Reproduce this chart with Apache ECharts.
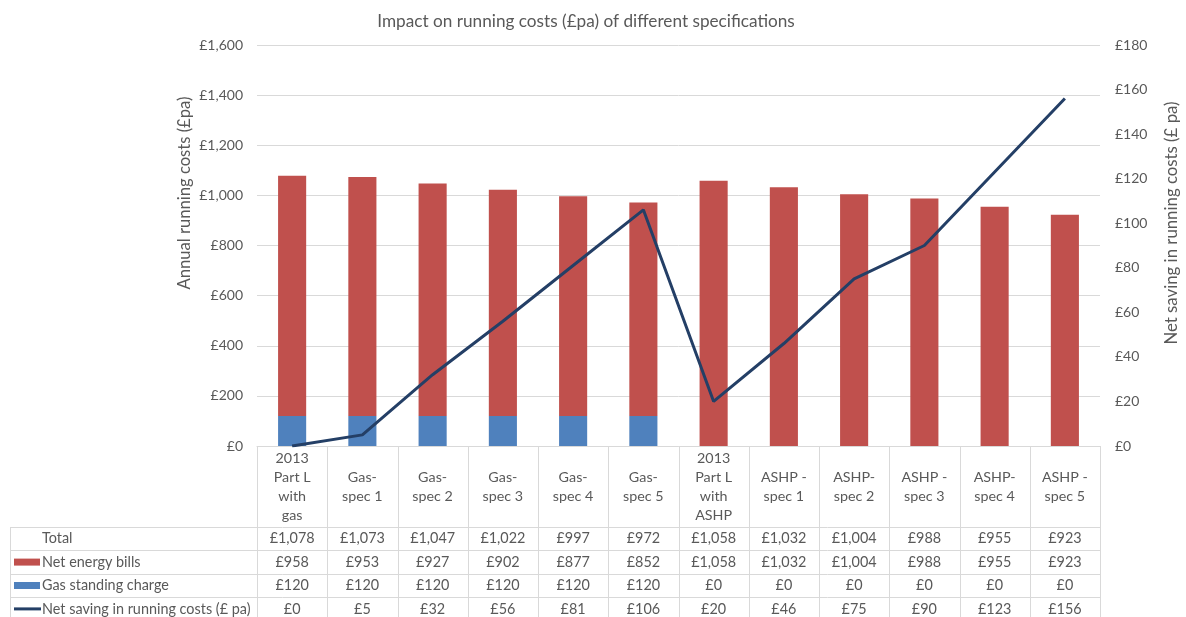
<!DOCTYPE html>
<html>
<head>
<meta charset="utf-8">
<script src="https://cdn.jsdelivr.net/npm/echarts@6/dist/echarts.min.js"></script>
<style>
html,body{margin:0;padding:0;background:#fff;}
#chart{width:1186px;height:617px;}
</style>
</head>
<body>
<div id="chart"></div>
<script>
const categories = ['2013 Part L with gas','Gas-spec 1','Gas-spec 2','Gas-spec 3','Gas-spec 4','Gas-spec 5',
  '2013 Part L with ASHP','ASHP - spec 1','ASHP-spec 2','ASHP - spec 3','ASHP-spec 4','ASHP - spec 5'];
const totalValues = [1078,1073,1047,1022,997,972,1058,1032,1004,988,955,923];
const netEnergyBills = [958,953,927,902,877,852,1058,1032,1004,988,955,923];
const gasStandingCharge = [120,120,120,120,120,120,0,0,0,0,0,0];
const netSaving = [0,5,32,56,81,106,20,46,75,90,123,156];
const leftTicks = {min:0, max:1600, interval:200};
const rightTicks = {min:0, max:180, interval:20};

const FONT = 'Lato, "Liberation Sans", sans-serif';
const TXT = '#595959';
const GRIDC = '#D9D9D9';
const RED = '#C0504D', BLUE = '#4F81BD', NAVY = '#243F66';

function money(v){ return '£' + v.toLocaleString('en-GB'); }
function wrap(label, max){
  const tokens = [];
  label.split(' ').forEach(w => {
    const parts = w.split(/(?<=-)(?=.)/);
    parts.forEach((p, i) => tokens.push({t:p, sp: i===0}));
  });
  const lines = []; let cur = '';
  tokens.forEach(tk => {
    const cand = cur === '' ? tk.t : cur + (tk.sp ? ' ' : '') + tk.t;
    if (cur !== '' && cand.length > max) { lines.push(cur); cur = tk.t; }
    else cur = cand;
  });
  if (cur) lines.push(cur);
  return lines.join('\n');
}

const grid = {left:257, right:86, top:45, bottom:171};
const chart = echarts.init(document.getElementById('chart'));
chart.setOption({
  animation:false,
  textStyle:{fontFamily:FONT},
  title:{text:'Impact on running costs (£pa) of different specifications', left:581, top:8, textAlign:'center',
    textStyle:{fontFamily:FONT, fontSize:17.2, fontWeight:'normal', color:TXT}},
  grid:grid,
  xAxis:{type:'category', data:categories,
    axisLine:{lineStyle:{color:GRIDC, width:1}}, axisTick:{show:false},
    axisLabel:{interval:0, margin:41, verticalAlign:'middle', lineHeight:19, fontSize:14.3, color:TXT, fontFamily:FONT,
      formatter: v => wrap(v, 6)}},
  yAxis:[
    {type:'value', min:leftTicks.min, max:leftTicks.max, interval:leftTicks.interval,
      axisLabel:{formatter: v => money(v), margin:14, fontSize:14, color:TXT, fontFamily:FONT},
      splitLine:{lineStyle:{color:GRIDC}}, axisLine:{show:false}, axisTick:{show:false}},
    {type:'value', min:rightTicks.min, max:rightTicks.max, interval:rightTicks.interval,
      axisLabel:{formatter: v => money(v), margin:15, fontSize:14, color:TXT, fontFamily:FONT},
      splitLine:{show:false}, axisLine:{show:false}, axisTick:{show:false}}
  ],
  series:[
    {name:'Gas standing charge', type:'bar', stack:'cost', data:gasStandingCharge, barWidth:'40%', itemStyle:{color:BLUE}},
    {name:'Net energy bills', type:'bar', stack:'cost', data:netEnergyBills, barWidth:'40%', itemStyle:{color:RED}},
    {name:'Net saving in running costs (£ pa)', type:'line', yAxisIndex:1, data:netSaving, symbol:'none',
      lineStyle:{color:NAVY, width:3}, itemStyle:{color:NAVY}, z:5}
  ]
});

// Data table below the plot, positioned from the category axis scale
const x0 = chart.convertToPixel({xAxisIndex:0}, 0);
const x1 = chart.convertToPixel({xAxisIndex:0}, 1);
const bw = x1 - x0;
const axisY = chart.convertToPixel({yAxisIndex:0}, 0);
const headerBottom = axisY + 81;
const rowH = 23.4;
const tableLeft = 10;
const rows = [
  {label:'Total', values:totalValues, key:null},
  {label:'Net energy bills', values:netEnergyBills, key:'red'},
  {label:'Gas standing charge', values:gasStandingCharge, key:'blue'},
  {label:'Net saving in running costs (£ pa)', values:netSaving, key:'line'}
];
const g = [];
const lineStyle = {stroke:GRIDC, lineWidth:1};
const leftEdge = x0 - bw/2;
const rightEdge = x0 + bw*(categories.length - 0.5);
const tableBottom = headerBottom + rowH*rows.length;
for (let i=0; i<=categories.length; i++){
  const x = Math.round(leftEdge + bw*i) + 0.5;
  g.push({type:'line', shape:{x1:x, y1:axisY, x2:x, y2:tableBottom}, style:lineStyle, silent:true});
}
g.push({type:'line', shape:{x1:tableLeft+0.5, y1:headerBottom, x2:tableLeft+0.5, y2:tableBottom}, style:lineStyle, silent:true});
for (let r=0; r<=rows.length; r++){
  const y = Math.round(headerBottom + rowH*r) + 0.5;
  g.push({type:'line', shape:{x1:tableLeft, y1:y, x2:rightEdge, y2:y}, style:lineStyle, silent:true});
}
const TFONT = '14.4px ' + FONT;
rows.forEach((row, r) => {
  const cy = headerBottom + rowH*(r+0.5);
  if (row.key === 'red' || row.key === 'blue'){
    g.push({type:'rect', shape:{x:14, y:cy-3.5, width:26, height:7}, style:{fill: row.key==='red'?RED:BLUE}, silent:true});
  } else if (row.key === 'line'){
    g.push({type:'line', shape:{x1:14, y1:cy, x2:41, y2:cy}, style:{stroke:NAVY, lineWidth:3}, silent:true});
  }
  g.push({type:'text', x:42, y:cy, style:{text:row.label, fill:TXT, font:TFONT, textAlign:'left', textVerticalAlign:'middle'}, silent:true});
  row.values.forEach((v, i) => {
    g.push({type:'text', x:x0 + bw*i, y:cy, style:{text:money(v), fill:TXT, font:TFONT, textAlign:'center', textVerticalAlign:'middle'}, silent:true});
  });
});
// Axis titles (rotated)
g.push({type:'text', x:185, y:193, rotation:Math.PI/2,
  style:{text:'Annual running costs (£pa)', fill:TXT, font:'16.6px ' + FONT, textAlign:'center', textVerticalAlign:'middle'}, silent:true});
g.push({type:'text', x:1172, y:223, rotation:Math.PI/2,
  style:{text:'Net saving in running costs (£ pa)', fill:TXT, font:'16.8px ' + FONT, textAlign:'center', textVerticalAlign:'middle'}, silent:true});
chart.setOption({graphic:g});
</script>
</body>
</html>
